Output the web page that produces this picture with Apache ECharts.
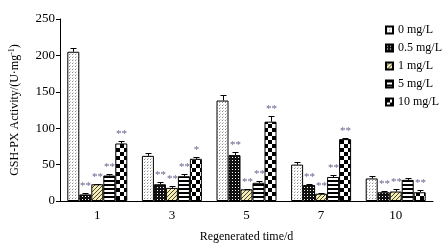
<!DOCTYPE html>
<html>
<head>
<meta charset="utf-8">
<script src="https://cdn.jsdelivr.net/npm/echarts@6/dist/echarts.min.js"></script>
<style>
  html, body { margin: 0; padding: 0; background: #fff; }
  #chart { width: 446px; height: 248px; }
</style>
</head>
<body>
<div id="chart"></div>
<script>
const categories = ['1', '3', '5', '7', '10']
const seriesNames = ['0 mg/L', '0.5 mg/L', '1 mg/L', '5 mg/L', '10 mg/L']

const values0 = [205, 62, 138, 50, 31]
const values05 = [9, 23, 63, 22, 12]
const values1 = [23, 18, 16, 10, 13]
const values5 = [35, 34, 25, 33, 29]
const values10 = [79, 58, 109, 85, 12]

const err0 = [5, 3.5, 8, 4, 3.5]
const err05 = [2, 3.5, 4, 2, 1.5]
const err1 = [1, 3, 1, 1, 3]
const err5 = [2.5, 2.5, 2.5, 2.5, 2.5]
const err10 = [3, 2.5, 7.5, 2, 2.5]

const sig0 = ['', '', '', '', '']
const sig05 = ['**', '**', '**', '**', '**']
const sig1 = ['**', '**', '**', '**', '**']
const sig5 = ['**', '**', '**', '**', '']
const sig10 = ['**', '*', '**', '**', '**']

const yTicks = [0, 50, 100, 150, 200, 250]

const BAR_W = 12
const FONT = '"Liberation Serif", "DejaVu Serif", serif'

// small canvas tiles used as bar fills
const makeTile = (w, h, draw) => {
  const c = document.createElement('canvas')
  c.width = w; c.height = h
  draw(c.getContext('2d'))
  return { image: c, repeat: 'repeat' }
}

const patterns = [
  makeTile(3, 3, g => { g.fillStyle = '#fff'; g.fillRect(0, 0, 3, 3); g.fillStyle = '#888'; g.fillRect(0, 0, 1, 1); g.fillStyle = '#ccc'; g.fillRect(1, 2, 1, 1) }),
  makeTile(3, 3, g => { g.fillStyle = '#111'; g.fillRect(0, 0, 3, 3); g.fillStyle = '#fff'; g.fillRect(1, 1, 1, 1) }),
  makeTile(4, 4, g => {
    g.fillStyle = '#f5eeb0'; g.fillRect(0, 0, 4, 4)
    g.fillStyle = '#444'
    for (let i = 0; i < 4; i++) g.fillRect(3 - i, i, 1, 1)
  }),
  makeTile(4, 4, g => { g.fillStyle = '#fff'; g.fillRect(0, 0, 4, 4); g.fillStyle = '#000'; g.fillRect(0, 0, 4, 2) }),
  makeTile(8, 8, g => { g.fillStyle = '#fff'; g.fillRect(0, 0, 8, 8); g.fillStyle = '#000'; g.fillRect(0, 0, 4, 4); g.fillRect(4, 4, 4, 4) })
]

const allValues = [values0, values05, values1, values5, values10]
const allErrs = [err0, err05, err1, err5, err10]
const allSigs = [sig0, sig05, sig1, sig5, sig10]

const barSeries = seriesNames.map((name, i) => ({
  name,
  type: 'bar',
  data: allValues[i],
  barWidth: BAR_W,
  barGap: '0%',
  itemStyle: { color: patterns[i], borderColor: '#000', borderWidth: 1 },
  emphasis: { disabled: true }
}))

const errSeries = seriesNames.map((name, idx) => ({
  type: 'custom',
  z: 5,
  silent: true,
  data: allValues[idx].map((v, i) => [i, v, allErrs[idx][i]]),
  renderItem: (params, api) => {
    const base = api.coord([api.value(0), api.value(1)])
    const top = api.coord([api.value(0), api.value(1) + api.value(2)])
    const x = Math.round(base[0] + (idx - 2) * BAR_W) + 0.5
    const yt = Math.round(top[1]) + 0.5
    const stroke = { stroke: '#000', lineWidth: 1 }
    const children = [
      { type: 'line', shape: { x1: x, y1: base[1], x2: x, y2: yt }, style: stroke },
      { type: 'line', shape: { x1: x - 3, y1: yt, x2: x + 3, y2: yt }, style: stroke }
    ]
    const sig = allSigs[idx][params.dataIndex]
    if (sig) {
      children.push({
        type: 'text', x, y: yt - 2,
        style: { text: sig, align: 'center', verticalAlign: 'bottom', fill: '#6a5f8c', font: '11px ' + FONT }
      })
    }
    return { type: 'group', children }
  }
}))

const chart = echarts.init(document.getElementById('chart'))
chart.setOption({
  animation: false,
  backgroundColor: '#fff',
  textStyle: { fontFamily: FONT },
  grid: { left: 52, right: 13, top: 19, bottom: 42 },
  legend: {
    data: seriesNames,
    orient: 'vertical',
    left: 380,
    top: 19,
    itemWidth: 7,
    itemHeight: 7,
    itemGap: 6,
    icon: 'rect',
    textStyle: { fontFamily: FONT, fontSize: 12, color: '#000' }
  },
  xAxis: {
    type: 'category',
    data: categories,
    name: 'Regenerated time/d',
    nameLocation: 'middle',
    nameGap: 30,
    nameTextStyle: { fontFamily: FONT, fontSize: 12, color: '#000' },
    axisLine: { lineStyle: { color: '#000', width: 1 } },
    axisTick: { inside: true, length: 6, lineStyle: { color: '#000' } },
    axisLabel: { fontFamily: FONT, fontSize: 13, color: '#000', margin: 8 }
  },
  yAxis: {
    type: 'value',
    min: yTicks[0],
    max: yTicks[yTicks.length - 1],
    interval: 50,
    name: '{a|GSH-PX Activity/(U·mg}{s|-1}{a|)}',
    nameLocation: 'middle',
    nameGap: 38,
    nameTextStyle: {
      rich: {
        a: { fontFamily: FONT, fontSize: 12, color: '#000' },
        s: { fontFamily: FONT, fontSize: 8, color: '#000', verticalAlign: 'top', padding: [0, 0, 6, 0] }
      }
    },
    axisLine: { show: true, lineStyle: { color: '#000', width: 1 } },
    axisTick: { show: true, length: 4, lineStyle: { color: '#000' } },
    axisLabel: { fontFamily: FONT, fontSize: 13, color: '#000', margin: 5 },
    splitLine: { show: false }
  },
  series: [...barSeries, ...errSeries]
})
</script>
</body>
</html>
